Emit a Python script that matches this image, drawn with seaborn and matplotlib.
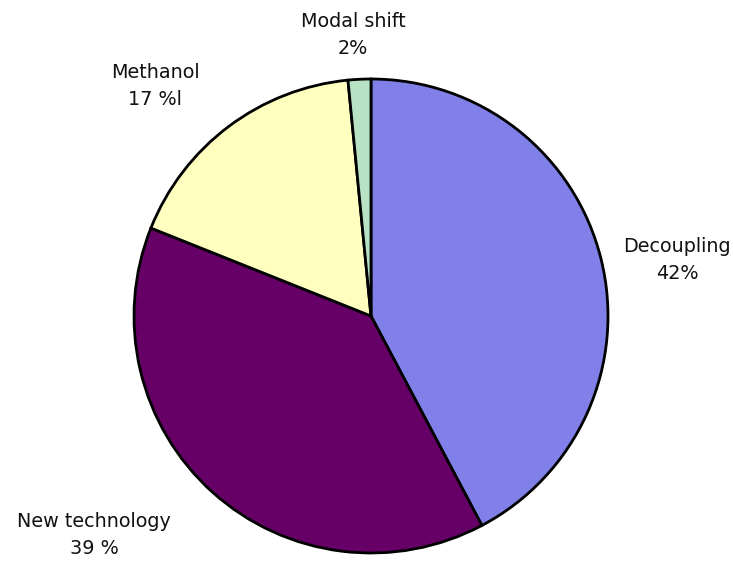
import matplotlib
matplotlib.use("Agg")
import matplotlib.pyplot as plt
import seaborn as sns

sns.set_theme(style="white")
plt.rcParams['font.family'] = ['DejaVu Sans']

categories = ["Decoupling", "New technology", "Methanol", "Modal shift"]
values = [42.25, 38.8, 17.4, 1.55]
label_texts = ["Decoupling\n42%", "New technology\n39 %", "Methanol\n17 %l", "Modal shift\n2%"]
colors = ["#8080E8", "#660066", "#FFFFC0", "#B8E2C4"]

W, H = 733, 562
cx, cy, r = 371, 316, 237

fig = plt.figure(figsize=(W / 100, H / 100), dpi=100)
ax = fig.add_axes([0, 0, 1, 1])
ax.pie(values, colors=colors, startangle=90, counterclock=False,
       radius=1, wedgeprops=dict(edgecolor="black", linewidth=2.0))
ax.set_xlim(-cx / r, (W - cx) / r)
ax.set_ylim((cy - H) / r, cy / r)
ax.set_aspect("equal")
ax.axis("off")

# label anchor positions in pixel space -> data coords
label_px = [(677, 260), (94, 535), (155, 86), (353, 35)]
for txt, (px, py) in zip(label_texts, label_px):
    ax.text((px - cx) / r, (cy - py) / r, txt, ha="center", va="center",
            fontsize=13.8, color="#111111", linespacing=1.55)

fig.savefig("out.png", dpi=100)
